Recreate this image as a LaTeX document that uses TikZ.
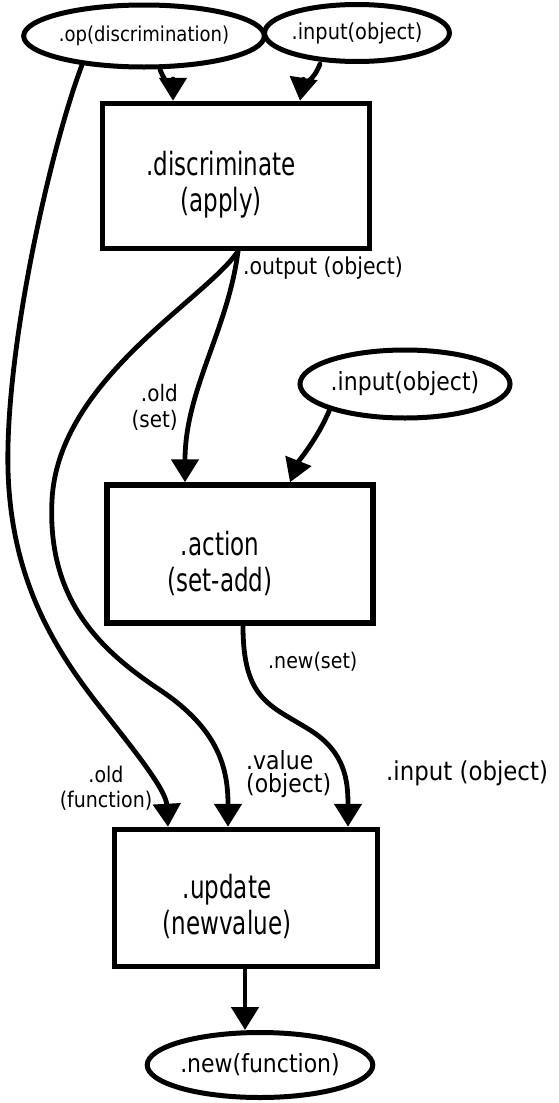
\documentclass[tikz,border=0pt]{standalone}
\usepackage{fontspec}
\setmainfont{DejaVu Sans}[FakeStretch=0.88]
\newfontfamily\blockfont{DejaVu Sans}[FakeStretch=0.72]
\usetikzlibrary{shapes.geometric,arrows.meta,calc}
\begin{document}
\begin{tikzpicture}[x=1pt,y=-1pt,
  wire/.style={line width=4.8pt,line cap=round},
  flow/.style={wire,-{Triangle[width=27pt,length=23pt]}},
  port/.style={ellipse,draw,line width=5pt,inner sep=0pt},
  block/.style={rectangle,draw,line width=5.5pt,inner sep=0pt},
  blocktext/.style={align=center,inner sep=0pt,font=\blockfont\fontsize{32}{36}\selectfont},
  tag/.style={inner sep=0pt,font=\fontsize{22.7}{26}\selectfont}]
\useasboundingbox (0,0) rectangle (559,1103);

% sources
\node[port,minimum width=190pt,minimum height=62pt,font=\fontsize{20.5}{24}\selectfont] (op) at (144,36) {.op(discrimination)};
\node[port,minimum width=180pt,minimum height=57pt,font=\fontsize{22}{24}\selectfont] (in1) at (357,33) {.input(object)};
\node[port,minimum width=210pt,minimum height=68pt,font=\fontsize{25}{28}\selectfont] (in2) at (405,384) {.input(object)};

% processing blocks
\node[block,minimum width=267pt,minimum height=145pt] (disc) at (236,176) {};
\node[blocktext] (disct) at (221,185) {.discriminate\\(apply)};
\node[block,minimum width=266pt,minimum height=138pt] (act) at (240,554) {};
\node[blocktext] (actt) at (220,563) {.action\\(set-add)};
\node[block,minimum width=263pt,minimum height=137pt] (upd) at (246,898) {};
\node[blocktext] (updt) at (227,906) {.update\\(newvalue)};

% result
\node[port,minimum width=216pt,minimum height=65pt,font=\fontsize{25}{28}\selectfont] (new) at (260,1065) {.new(function)};

% port labels
\node[tag,font=\fontsize{23.3}{26}\selectfont] (l1) at (323,268) {.output (object)};
\node[tag,align=right,anchor=east] (l2) at (178,407) {.old\\(set)};
\node[tag,align=center,font=\fontsize{21.6}{25}\selectfont] (l3) at (106,788) {.old\\(function)};
\node[tag,align=left,anchor=west,font=\fontsize{25}{23}\selectfont] (l4) at (246,774) {.value\\(object)};
\node[tag,anchor=west,font=\fontsize{26}{28}\selectfont] (l5) at (386,773) {.input (object)};
\node[tag,anchor=west,font=\fontsize{21.6}{25}\selectfont] (l6) at (268,662) {.new(set)};

% connectors
\draw[flow] ($(op.south)+(16,0)$) .. controls (166,85) and (173,90) .. ($(disc.north)+(-63,0)$);
\draw[flow] ($(in1.south)+(-37,0)$) .. controls (314,80) and (302,88) .. ($(disc.north)+(64,0)$);
\draw[flow] ($(disc.south)+(2,0)$) .. controls (228,330) and (185,390) .. ($(act.north)+(-55,0)$);
\draw[flow] (in2.199) .. controls (318,438) and (298,462) .. ($(act.north)+(50,0)$);
\draw[flow] ($(disc.south)+(2,0)$) .. controls (205,300) and (58,380) .. (52,500)
  .. controls (47,600) and (100,650) .. (160,690)
  .. controls (220,730) and (228,770) .. ($(upd.north)+(-18,0)$);
\draw[flow] (op.205) .. controls (50,150) and (5,350) .. (8,470)
  .. controls (11,580) and (55,650) .. (100,707)
  .. controls (135,751) and (166,790) .. ($(upd.north)+(-78,0)$);
\draw[flow] ($(act.south)+(3,0)$) .. controls (243,700) and (270,705) .. (310,730)
  .. controls (345,752) and (348,780) .. ($(upd.north)+(102,0)$);
\draw[flow] ($(upd.south)+(-1,0)$) -- ($(new.north)+(-15,0)$);
\end{tikzpicture}
\end{document}
